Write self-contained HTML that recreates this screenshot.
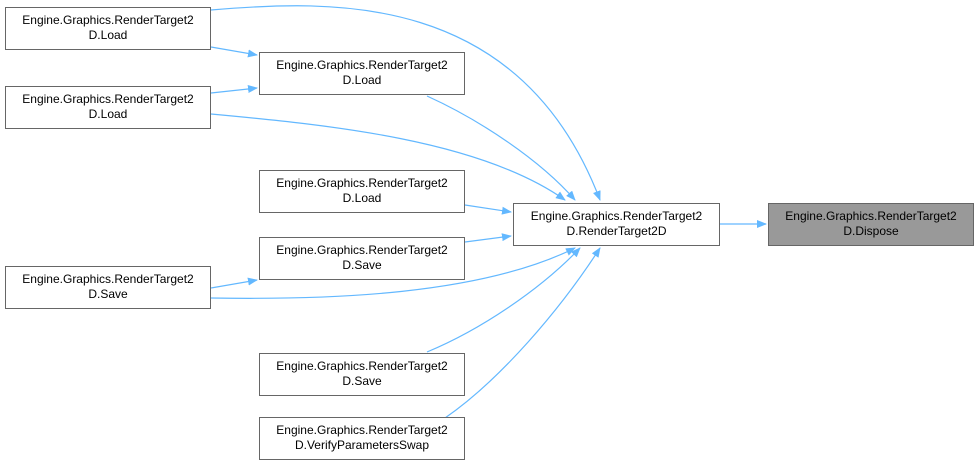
<!DOCTYPE html>
<html><head><style>
body{margin:0;background:#fff;width:980px;height:468px;overflow:hidden}
.n{position:absolute;box-sizing:border-box;border:1px solid #666;background:#fff;font:12px/15px "Liberation Sans",Arial,sans-serif;color:#000;text-align:center;padding-top:5px;width:206px;height:43px}
svg{position:absolute;left:0;top:0}
</style></head><body>
<svg width="980" height="468">
<defs><marker id="a" markerWidth="10" markerHeight="8" refX="9" refY="4" orient="auto" markerUnits="userSpaceOnUse"><path d="M0,0L10,4L0,8z" fill="#63b8ff"/></marker></defs>
<g fill="none" stroke="#63b8ff" stroke-width="1.2" marker-end="url(#a)">
<path d="M211,10C330,0 520,-10 600,200"/>
<path d="M211,47L257,55"/>
<path d="M211,93L257,88"/>
<path d="M427,96C480,120 540,160 575,200"/>
<path d="M211,114C330,125 480,140 565,200"/>
<path d="M465,205L511,212"/>
<path d="M465,242L511,236"/>
<path d="M211,298C330,300 480,295 575,248"/>
<path d="M211,288L257,280"/>
<path d="M427,352C480,330 540,290 580,248"/>
<path d="M445,418C500,380 560,310 600,248"/>
<path d="M720,224L766,224"/>
</g>
</svg>
<div class="n" style="left:5px;top:7px">Engine.Graphics.RenderTarget2<br>D.Load</div>
<div class="n" style="left:259px;top:52px">Engine.Graphics.RenderTarget2<br>D.Load</div>
<div class="n" style="left:5px;top:86px">Engine.Graphics.RenderTarget2<br>D.Load</div>
<div class="n" style="left:259px;top:170px">Engine.Graphics.RenderTarget2<br>D.Load</div>
<div class="n" style="left:513px;top:203px;width:207px">Engine.Graphics.RenderTarget2<br>D.RenderTarget2D</div>
<div class="n" style="left:768px;top:203px;background:#999">Engine.Graphics.RenderTarget2<br>D.Dispose</div>
<div class="n" style="left:259px;top:237px">Engine.Graphics.RenderTarget2<br>D.Save</div>
<div class="n" style="left:5px;top:266px">Engine.Graphics.RenderTarget2<br>D.Save</div>
<div class="n" style="left:259px;top:353px">Engine.Graphics.RenderTarget2<br>D.Save</div>
<div class="n" style="left:259px;top:417px">Engine.Graphics.RenderTarget2<br>D.VerifyParametersSwap</div>
</body></html>
